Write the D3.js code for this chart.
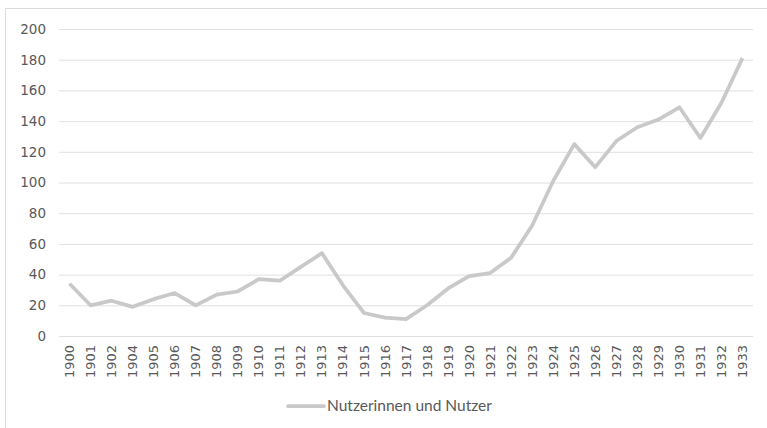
<!DOCTYPE html>
<html><head><meta charset="utf-8">
<script src="https://cdn.jsdelivr.net/npm/d3@7"></script>
<style>body{margin:0;background:#fff;}svg{display:block;}</style>
</head><body>
<svg id="c" width="767" height="428"></svg>
<script>
const years = ["1900","1901","1902","1904","1905","1906","1907","1908","1909","1910","1911","1912","1913","1914","1915","1916","1917","1918","1919","1920","1921","1922","1923","1924","1925","1926","1927","1928","1929","1930","1931","1932","1933"];
const users = [34,20,23,19,24,28,20,27,29,37,36,45,54,33,15,12,11,20,31,39,41,51,72,101,125,110,127,136,141,149,129,152,181];
const yTicks = [0,20,40,60,80,100,120,140,160,180,200];
const seriesName = "Nutzerinnen und Nutzer";

const svg = d3.select("#c");
const font = "'DejaVu Sans', sans-serif";
const textColor = "#595959";
const lineColor = "#c9c9c9";

svg.append("rect").attr("x",5.5).attr("y",8.5).attr("width",770).attr("height",430)
  .attr("fill","none").attr("stroke","#dcdcdc");

const x = d3.scaleBand().domain(years).range([59,753]);
const y = d3.scaleLinear().domain([0,200]).range([336,29]);

const yAxis = svg.append("g").attr("transform","translate(59,0)")
  .call(d3.axisLeft(y).tickValues(yTicks).tickSize(-694).tickPadding(13));
yAxis.select(".domain").remove();
yAxis.selectAll("line").attr("stroke","#e0e0e0").attr("stroke-width",1);
yAxis.selectAll("text").attr("fill",textColor).style("font-family",font).style("font-size","13.5px");

const xAxis = svg.append("g").attr("transform","translate(0,336)")
  .call(d3.axisBottom(x).tickSize(0).tickPadding(0));
xAxis.select(".domain").remove();
xAxis.selectAll("text")
  .attr("fill",textColor).style("font-family",font).style("font-size","13px")
  .attr("text-anchor","end").attr("dy","0.35em")
  .attr("transform","translate(0,9) rotate(-90)").attr("x",0).attr("y",0);

const line = d3.line().x((d,i)=>x(years[i])+x.bandwidth()/2).y(d=>y(d));
svg.append("path").datum(users).attr("d",line).attr("fill","none")
  .attr("stroke",lineColor).attr("stroke-width",3.75).attr("stroke-linejoin","round");

const lg = svg.append("g");
lg.append("line").attr("x1",288).attr("x2",324).attr("y1",406).attr("y2",406)
  .attr("stroke",lineColor).attr("stroke-width",3.75).attr("stroke-linecap","round");
lg.append("text").attr("x",327).attr("y",406).attr("dy","0.35em")
  .attr("fill",textColor).style("font-family","Lato, sans-serif").style("font-size","15.5px")
  .text(seriesName);
</script>
</body></html>
